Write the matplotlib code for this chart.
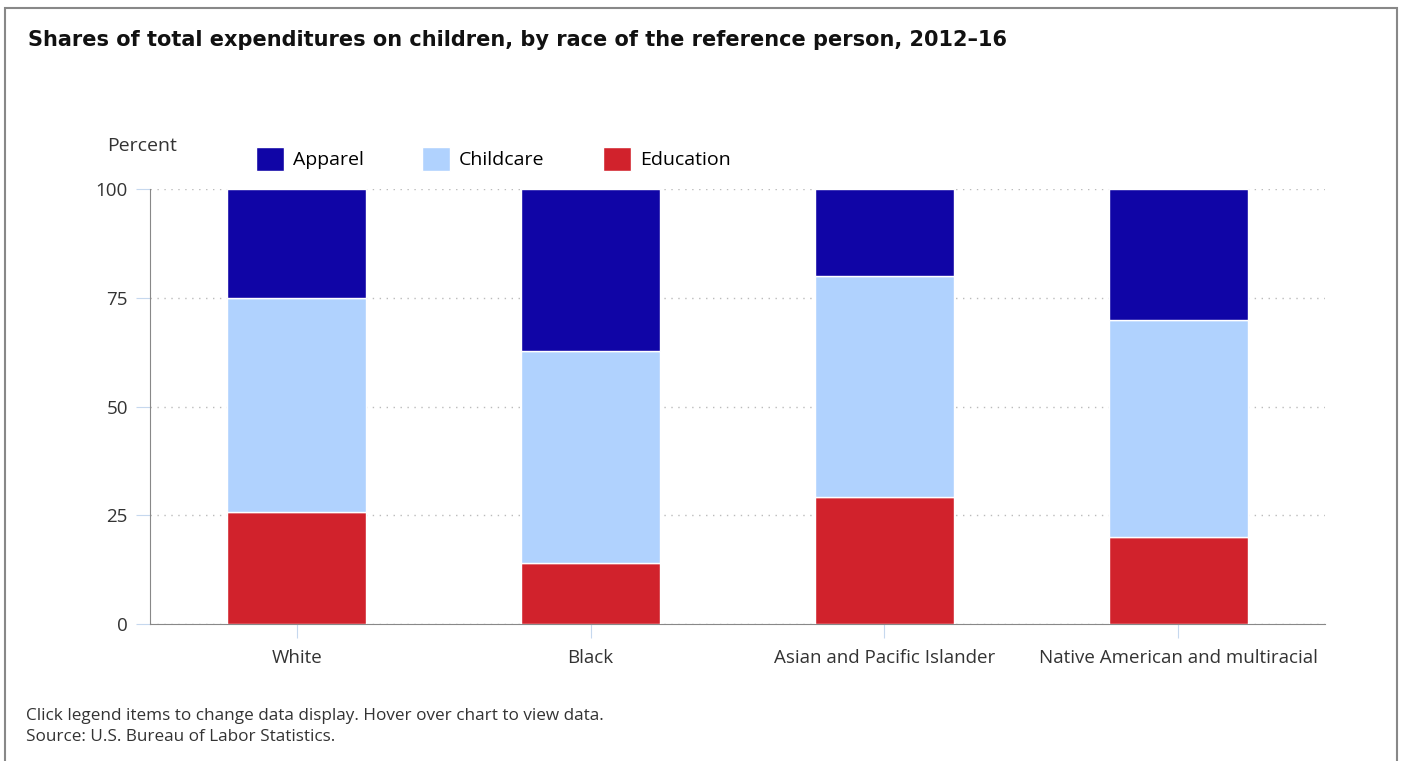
import numpy as np
import matplotlib.pyplot as plt
from matplotlib.patches import Rectangle

plt.rcParams['font.family'] = ['Open Sans', 'DejaVu Sans']

categories = ["White", "Black", "Asian and Pacific Islander", "Native American and multiracial"]
education = [25.7, 14.0, 29.2, 20.0]
childcare = [49.2, 48.8, 50.8, 49.9]
apparel = [25.1, 37.2, 20.0, 30.1]

c_app = "#1005a6"
c_child = "#b0d2fe"
c_edu = "#d1222c"

fig = plt.figure(figsize=(14.01, 7.61), dpi=100)
ax = fig.add_axes([150 / 1401, 137 / 761, 1175 / 1401, 435 / 761])

x = np.arange(len(categories))
w = 0.473
edu = np.array(education)
chi = np.array(childcare)
app = np.array(apparel)

b_edu = ax.bar(x, edu, w, color=c_edu, edgecolor="white", linewidth=1, zorder=3)
b_chi = ax.bar(x, chi, w, bottom=edu, color=c_child, edgecolor="white", linewidth=1, zorder=3)
b_app = ax.bar(x, app, w, bottom=edu + chi, color=c_app, edgecolor="white", linewidth=1, zorder=3)

ax.set_xlim(-0.5, len(categories) - 0.5)
ax.set_ylim(0, 100)
ax.set_yticks([0, 25, 50, 75, 100])
ax.set_xticks(x)
ax.set_xticklabels(categories)
ax.yaxis.grid(True, linestyle=(0, (1, 4)), color="#bbbbbb", linewidth=1)
ax.set_axisbelow(True)

for s in ["top", "right"]:
    ax.spines[s].set_visible(False)
ax.spines["left"].set_color("#888888")
ax.spines["bottom"].set_color("#888888")
ax.tick_params(axis="y", length=10, color="#c6d8ee", labelsize=13.5, labelcolor="#333333", pad=6)
ax.tick_params(axis="x", length=10, color="#c6d8ee", labelsize=13.5, labelcolor="#333333", pad=8)

fig.text(107 / 1401, 1 - 146 / 761, "Percent", fontsize=14, color="#333333", ha="left", va="center")

ax.legend([b_app, b_chi, b_edu], ["Apparel", "Childcare", "Education"], ncol=3,
          loc="center left", bbox_to_anchor=(256 / 1401, 1 - 159 / 761), bbox_transform=fig.transFigure,
          frameon=False, fontsize=14, handlelength=1.44, handleheight=1.45, columnspacing=3.0,
          handletextpad=0.46, borderpad=0, borderaxespad=0)

fig.text(28 / 1401, 1 - 40 / 761, "Shares of total expenditures on children, by race of the reference person, 2012\u201316",
         fontsize=15, fontweight="bold", family="DejaVu Sans", color="#111111", va="center")
fig.text(26 / 1401, 1 - 716 / 761, "Click legend items to change data display. Hover over chart to view data.",
         fontsize=12.3, color="#333333", va="center")
fig.text(26 / 1401, 1 - 737 / 761, "Source: U.S. Bureau of Labor Statistics.",
         fontsize=12.3, color="#333333", va="center")

fig.patches.append(Rectangle((5 / 1401, -0.1), 1392 / 1401, 1.1 - 8 / 761, transform=fig.transFigure,
                             fill=False, edgecolor="#888888", linewidth=1.5))

fig.savefig("out.png", dpi=100)
